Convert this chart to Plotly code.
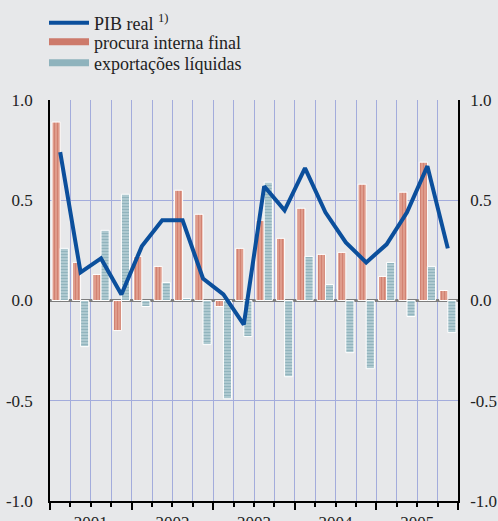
import plotly.graph_objects as go

quarters = ["2001Q1", "2001Q2", "2001Q3", "2001Q4",
            "2002Q1", "2002Q2", "2002Q3", "2002Q4",
            "2003Q1", "2003Q2", "2003Q3", "2003Q4",
            "2004Q1", "2004Q2", "2004Q3", "2004Q4",
            "2005Q1", "2005Q2", "2005Q3", "2005Q4"]
years = ["2001", "2002", "2003", "2004", "2005"]
y_tick_vals = [-1.0, -0.5, 0.0, 0.5, 1.0]
y_tick_text = ["-1.0", "-0.5", "0.0", "0.5", "1.0"]

pib_real = [0.74, 0.14, 0.21, 0.03, 0.27, 0.40, 0.40, 0.11, 0.03, -0.12,
            0.57, 0.45, 0.66, 0.44, 0.29, 0.19, 0.28, 0.44, 0.67, 0.26]
procura_interna = [0.89, 0.19, 0.13, -0.15, 0.22, 0.17, 0.55, 0.43, -0.03, 0.26,
                   0.40, 0.31, 0.46, 0.23, 0.24, 0.58, 0.12, 0.54, 0.69, 0.05]
exportacoes = [0.26, -0.23, 0.35, 0.53, -0.03, 0.09, 0.01, -0.22, -0.49, -0.18,
               0.59, -0.38, 0.22, 0.08, -0.26, -0.34, 0.19, -0.08, 0.17, -0.16]

x = list(range(len(quarters)))
year_pos = [4 * i + 1.5 for i in range(len(years))]

BG = "#e7e8ea"
GRID = "#a3acdc"
FONT = "Liberation Serif, Times New Roman, Times, serif"
BLUE = "#0b4f9c"
TXT = "#222222"
W, H = 498, 521

fig = go.Figure()

fig.add_trace(go.Bar(
    x=x, y=procura_interna, name="procura interna final", showlegend=False,
    marker=dict(color="#e3a595", line=dict(color="white", width=1),
                pattern=dict(shape="|", fgcolor="#c15f50", bgcolor="#e3a595",
                             size=3, solidity=0.5)),
))
fig.add_trace(go.Bar(
    x=x, y=exportacoes, name="exportações líquidas", showlegend=False,
    marker=dict(color="#b7d0d6", line=dict(color="white", width=1),
                pattern=dict(shape="-", fgcolor="#6b98a4", bgcolor="#b7d0d6",
                             size=3, solidity=0.5)),
))
fig.add_trace(go.Scatter(
    x=x, y=pib_real, mode="lines", name="PIB real <sup>1)</sup>",
    line=dict(color=BLUE, width=4), showlegend=False,
))

# legend entries (one legend each, to control row spacing)
fig.add_trace(go.Scatter(x=[None], y=[None], mode="lines",
                         name="PIB real <sup>1)</sup>", legend="legend",
                         line=dict(color=BLUE, width=4)))
fig.add_trace(go.Scatter(x=[None], y=[None], mode="lines",
                         name="procura interna final", legend="legend2",
                         line=dict(color="#cd7a6b", width=7)))
fig.add_trace(go.Scatter(x=[None], y=[None], mode="lines",
                         name="exportações líquidas", legend="legend3",
                         line=dict(color="#8fb3bd", width=7)))

fig.add_trace(go.Scatter(x=[None], y=[None], xaxis="x2", yaxis="y2",
                         showlegend=False))


def ycont(py):
    return 1 - py / H


leg_common = dict(x=44 / W, xref="container", yref="container",
                  xanchor="left", yanchor="middle",
                  bgcolor="rgba(0,0,0,0)",
                  font=dict(family=FONT, size=18, color=TXT),
                  itemwidth=40, tracegroupgap=0)

fig.update_layout(
    width=W, height=H,
    margin=dict(l=50, r=40, t=100, b=20, autoexpand=False),
    paper_bgcolor=BG, plot_bgcolor=BG,
    font=dict(family=FONT, size=16, color=TXT),
    barmode="group", bargap=0.2, bargroupgap=0,
    showlegend=True,
    legend=dict(y=ycont(23), **leg_common),
    legend2=dict(y=ycont(42), **leg_common),
    legend3=dict(y=ycont(63), **leg_common),
    xaxis=dict(range=[-0.5, len(quarters) - 0.5], showticklabels=False,
               tick0=-0.5, dtick=4, ticks="outside", ticklen=7, tickcolor="black",
               tickwidth=1.5,
               showline=True, linecolor="black", linewidth=1.5,
               showgrid=True, gridcolor=GRID, gridwidth=1,
               minor=dict(tick0=-0.5, dtick=1, ticks="outside", ticklen=4,
                          tickcolor="black", tickwidth=1.5,
                          showgrid=True, gridcolor=GRID, gridwidth=1),
               zeroline=False, fixedrange=True),
    xaxis2=dict(overlaying="x", anchor="y", side="bottom",
                range=[-0.5, len(quarters) - 0.5],
                tickmode="array", tickvals=year_pos, ticktext=years,
                ticks="", showline=False, showgrid=False, zeroline=False,
                ticklabelstandoff=9, tickfont=dict(family=FONT, size=17, color=TXT)),
    yaxis=dict(range=[-1.0, 1.0], tickmode="array", tickvals=y_tick_vals,
               ticktext=y_tick_text, showline=True, linecolor="black", linewidth=1.5,
               ticks="", showgrid=True, gridcolor=GRID, gridwidth=1,
               zeroline=True, zerolinecolor="#7d7d7d", zerolinewidth=2.5,
               ticklabelstandoff=12, tickfont=dict(family=FONT, size=17, color=TXT)),
    yaxis2=dict(overlaying="y", side="right", anchor="x", range=[-1.0, 1.0],
                tickmode="array", tickvals=y_tick_vals, ticktext=y_tick_text,
                showline=True, linecolor="black", linewidth=1.5,
                ticks="", showgrid=False, zeroline=False,
                ticklabelstandoff=7, tickfont=dict(family=FONT, size=17, color=TXT)),
)

fig.write_html(
    "out.html",
    config={"displayModeBar": False},
    post_script="document.body.style.margin='0';document.body.style.overflow='hidden';"
                "document.body.style.background='" + BG + "';",
)
